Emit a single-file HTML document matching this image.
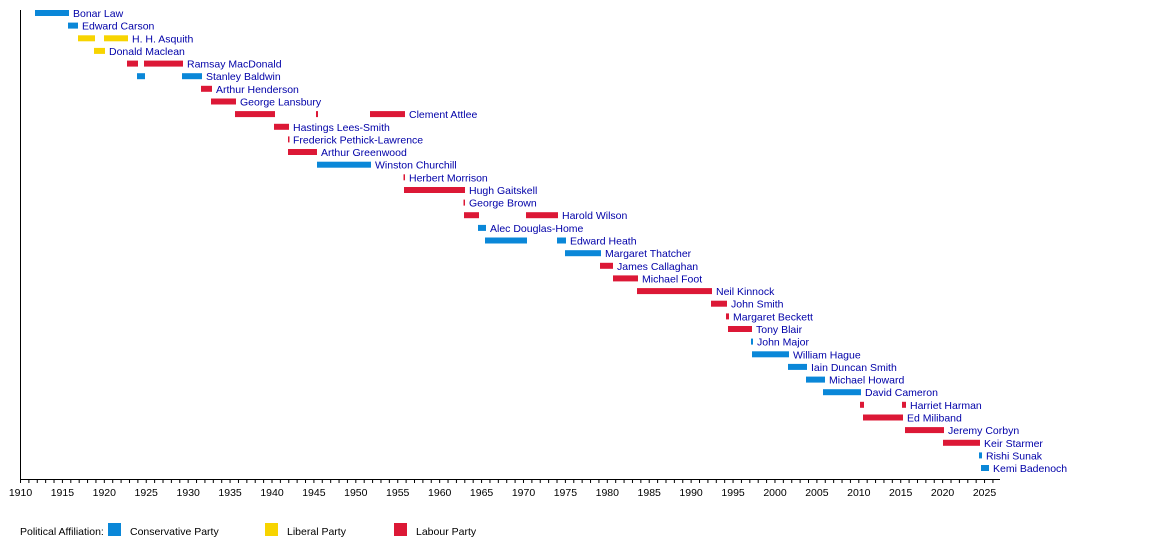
<!DOCTYPE html>
<html><head><meta charset="utf-8"><style>
body{margin:0;background:#fff;}
svg{display:block;font-family:"Liberation Sans",sans-serif;}
</style></head><body>
<svg width="1150" height="548" xmlns="http://www.w3.org/2000/svg">
<defs>
<pattern id="mt" patternUnits="userSpaceOnUse" x="20" y="479" width="8.383" height="5"><rect x="0" y="0" width="1" height="5" fill="#000"/></pattern>
</defs>
<g fill="#0a87d8">
<rect x="35" y="10" width="34" height="6"/>
<rect x="68" y="22.6" width="10" height="6"/>
<rect x="137" y="73.2" width="8" height="6"/><rect x="182" y="73.2" width="20" height="6"/>
<rect x="317" y="161.7" width="54" height="6"/>
<rect x="478" y="224.9" width="8" height="6"/>
<rect x="485" y="237.5" width="42" height="6"/><rect x="557" y="237.5" width="9" height="6"/>
<rect x="565" y="250.2" width="36" height="6"/>
<rect x="751" y="338.6" width="2" height="6"/>
<rect x="752" y="351.3" width="37" height="6"/>
<rect x="788" y="363.9" width="19" height="6"/>
<rect x="806" y="376.6" width="19" height="6"/>
<rect x="823" y="389.2" width="38" height="6"/>
<rect x="979" y="452.4" width="3" height="6"/>
<rect x="981" y="465" width="8" height="6"/>
</g>
<g fill="#f7d400">
<rect x="78" y="35.3" width="17" height="6"/><rect x="104" y="35.3" width="24" height="6"/>
<rect x="94" y="47.9" width="11" height="6"/>
</g>
<g fill="#dc1836">
<rect x="127" y="60.6" width="11" height="6"/><rect x="144" y="60.6" width="39" height="6"/>
<rect x="201" y="85.8" width="11" height="6"/>
<rect x="211" y="98.5" width="25" height="6"/>
<rect x="235" y="111.1" width="40" height="6"/><rect x="316" y="111.1" width="2" height="6"/><rect x="370" y="111.1" width="35" height="6"/>
<rect x="274" y="123.8" width="15" height="6"/>
<rect x="288" y="136.4" width="1.5" height="6"/>
<rect x="288" y="149" width="29" height="6"/>
<rect x="403.5" y="174.3" width="1.5" height="6"/>
<rect x="404" y="187" width="61" height="6"/>
<rect x="463.5" y="199.6" width="1.5" height="6"/>
<rect x="464" y="212.2" width="15" height="6"/><rect x="526" y="212.2" width="32" height="6"/>
<rect x="600" y="262.8" width="13" height="6"/>
<rect x="613" y="275.4" width="25" height="6"/>
<rect x="637" y="288.1" width="75" height="6"/>
<rect x="711" y="300.7" width="16" height="6"/>
<rect x="726" y="313.4" width="3" height="6"/>
<rect x="728" y="326" width="24" height="6"/>
<rect x="860" y="401.8" width="4" height="6"/><rect x="902" y="401.8" width="4" height="6"/>
<rect x="863" y="414.5" width="40" height="6"/>
<rect x="905" y="427.1" width="39" height="6"/>
<rect x="943" y="439.8" width="37" height="6"/>
</g>
<g font-size="10.5" fill="#0000a8">
<text x="73" y="17">Bonar Law</text>
<text x="82" y="29.6">Edward Carson</text>
<text x="132" y="42.3">H. H. Asquith</text>
<text x="109" y="54.9">Donald Maclean</text>
<text x="187" y="67.6">Ramsay MacDonald</text>
<text x="206" y="80.2">Stanley Baldwin</text>
<text x="216" y="92.8">Arthur Henderson</text>
<text x="240" y="105.5">George Lansbury</text>
<text x="409" y="118.1">Clement Attlee</text>
<text x="293" y="130.8">Hastings Lees-Smith</text>
<text x="293" y="143.4">Frederick Pethick-Lawrence</text>
<text x="321" y="156">Arthur Greenwood</text>
<text x="375" y="168.7">Winston Churchill</text>
<text x="409" y="181.3">Herbert Morrison</text>
<text x="469" y="194">Hugh Gaitskell</text>
<text x="469" y="206.6">George Brown</text>
<text x="562" y="219.2">Harold Wilson</text>
<text x="490" y="231.9">Alec Douglas-Home</text>
<text x="570" y="244.5">Edward Heath</text>
<text x="605" y="257.2">Margaret Thatcher</text>
<text x="617" y="269.8">James Callaghan</text>
<text x="642" y="282.4">Michael Foot</text>
<text x="716" y="295.1">Neil Kinnock</text>
<text x="731" y="307.7">John Smith</text>
<text x="733" y="320.4">Margaret Beckett</text>
<text x="756" y="333">Tony Blair</text>
<text x="757" y="345.6">John Major</text>
<text x="793" y="358.3">William Hague</text>
<text x="811" y="370.9">Iain Duncan Smith</text>
<text x="829" y="383.6">Michael Howard</text>
<text x="865" y="396.2">David Cameron</text>
<text x="910" y="408.8">Harriet Harman</text>
<text x="907" y="421.5">Ed Miliband</text>
<text x="948" y="434.1">Jeremy Corbyn</text>
<text x="984" y="446.8">Keir Starmer</text>
<text x="986" y="459.4">Rishi Sunak</text>
<text x="993" y="472">Kemi Badenoch</text>
</g>
<line x1="20.5" y1="10" x2="20.5" y2="479.5" stroke="#000" stroke-width="1"/>
<line x1="20.5" y1="479.5" x2="1000" y2="479.5" stroke="#000" stroke-width="1"/>
<rect x="20" y="479" width="980" height="4" fill="url(#mt)"/>
<g font-size="10.5" fill="#000" text-anchor="middle">
<text x="20.5" y="496">1910</text><text x="62.4" y="496">1915</text><text x="104.3" y="496">1920</text>
<text x="146.2" y="496">1925</text><text x="188.2" y="496">1930</text><text x="230.1" y="496">1935</text>
<text x="272" y="496">1940</text><text x="313.9" y="496">1945</text><text x="355.8" y="496">1950</text>
<text x="397.7" y="496">1955</text><text x="439.7" y="496">1960</text><text x="481.6" y="496">1965</text>
<text x="523.5" y="496">1970</text><text x="565.4" y="496">1975</text><text x="607.3" y="496">1980</text>
<text x="649.2" y="496">1985</text><text x="691.1" y="496">1990</text><text x="733.1" y="496">1995</text>
<text x="775" y="496">2000</text><text x="816.9" y="496">2005</text><text x="858.8" y="496">2010</text>
<text x="900.7" y="496">2015</text><text x="942.6" y="496">2020</text><text x="984.5" y="496">2025</text>
</g>
<g font-size="10.5" fill="#000">
<text x="20" y="535">Political Affiliation:</text>
<rect x="108" y="523" width="13" height="13" fill="#0a87d8"/><text x="130" y="535">Conservative Party</text>
<rect x="265" y="523" width="13" height="13" fill="#f7d400"/><text x="287" y="535">Liberal Party</text>
<rect x="394" y="523" width="13" height="13" fill="#dc1836"/><text x="416" y="535">Labour Party</text>
</g>
</svg>
</body></html>
